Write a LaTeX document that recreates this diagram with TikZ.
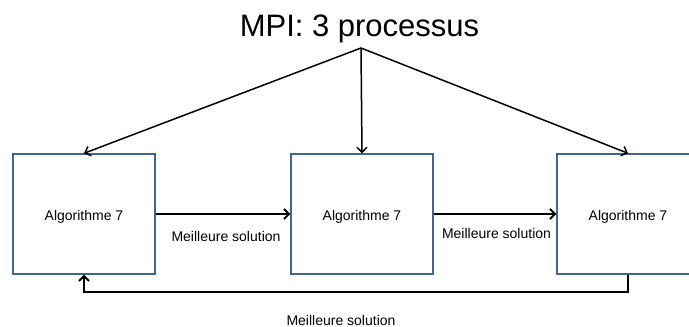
\documentclass[tikz,border=0pt]{standalone}
\usepackage{fontspec}
\setmainfont{Liberation Sans}
\usetikzlibrary{arrows.meta}
\definecolor{boxblue}{RGB}{65,100,150}
\begin{document}
\begin{tikzpicture}[x=1pt,y=-1pt,
  algbox/.style={draw=boxblue,line width=1.4pt,minimum width=142pt,minimum height=120pt,inner sep=0pt,font=\fontsize{14}{16}\selectfont},
  lbl/.style={font=\fontsize{14}{16}\selectfont,anchor=base,inner sep=0pt},
  thinarr/.style={line width=1.5pt,-{Straight Barb[length=5pt,width=10pt,line width=1.5pt]}},
  thickarr/.style={line width=1.9pt,-{Straight Barb[length=5pt,width=10pt,line width=1.9pt]}}
]
\useasboundingbox (0,0) rectangle (689,327);
\clip (0,0) rectangle (689,327);
\node[anchor=base,inner sep=0pt,font=\fontsize{31}{36}\selectfont] (title) at (359.5,36.7) {MPI: 3 processus};
\coordinate (apex) at (361,48);
\node[algbox] (b1) at (84,214) {};
\node[algbox] (b2) at (362,214) {};
\node[algbox] (b3) at (628,214) {};
\node[lbl] (t1) at (84,220) {Algorithme 7};
\node[lbl] (t2) at (362,220) {Algorithme 7};
\node[lbl] (t3) at (628,220) {Algorithme 7};
\draw[thinarr] (apex) -- (b1.north);
\draw[thinarr] (apex) -- (b2.north);
\draw[thinarr] (apex) -- (b3.north);
\draw[thickarr] (b1.east) -- (b2.west);
\draw[thickarr] (b2.east) -- (b3.west);
\coordinate (lr) at (628,292);
\coordinate (ll) at (84,292);
\draw[thickarr] (b3.south) -- (lr) -- (ll) -- (b1.south);
\node[lbl] (m1) at (226,241.7) {Meilleure solution};
\node[lbl] (m2) at (496.5,238.3) {Meilleure solution};
\node[lbl] (m3) at (341,325) {Meilleure solution};
\end{tikzpicture}
\end{document}
